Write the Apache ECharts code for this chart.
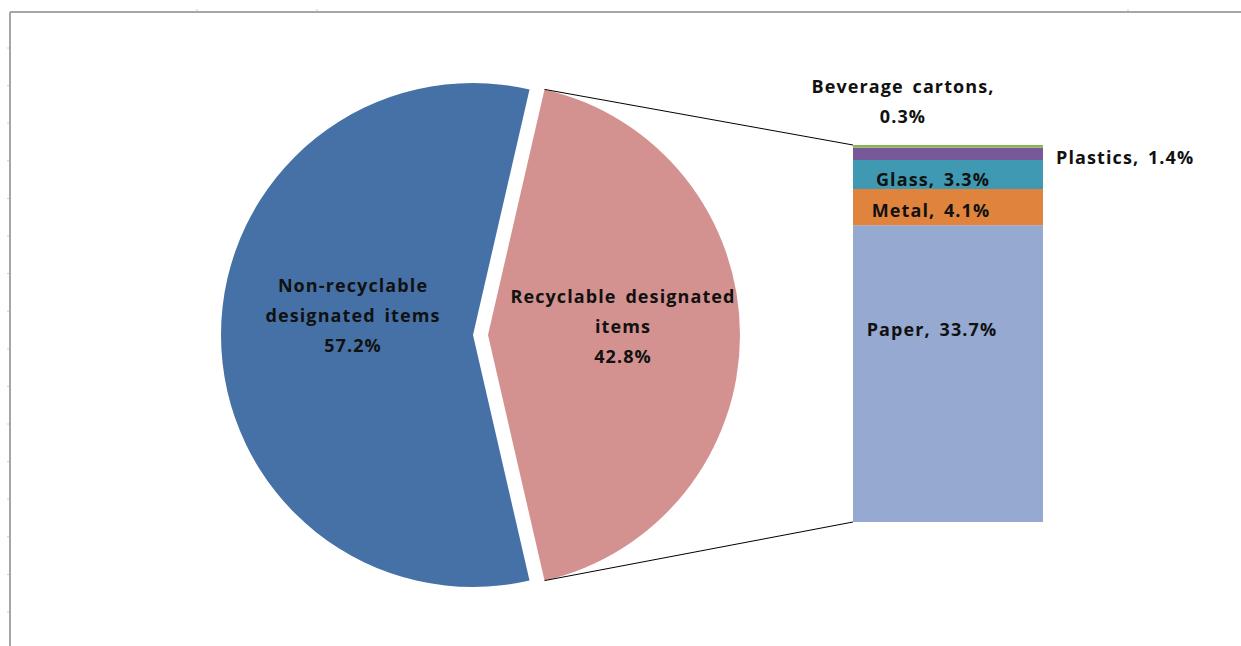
<!DOCTYPE html>
<html>
<head>
<meta charset="utf-8">
<script src="https://cdn.jsdelivr.net/npm/echarts@6/dist/echarts.min.js"></script>
<style>
  html, body { margin: 0; padding: 0; background: #fff; }
  #chart { width: 1241px; height: 646px; }
  #chart text { letter-spacing: 1.1px; word-spacing: 3px; }
</style>
</head>
<body>
<div id="chart"></div>
<script>
// Main split of designated items (percent of total)
const pieNames = ['Recyclable designated items', 'Non-recyclable designated items'];
const pieLabels = ['Recyclable designated\nitems', 'Non-recyclable\ndesignated items'];
const pieValues = [42.8, 57.2];

// Breakdown of the recyclable share (percent of total)
const barNames = ['Paper', 'Metal', 'Glass', 'Plastics', 'Beverage cartons'];
const barValues = [33.7, 4.1, 3.3, 1.4, 0.3];

const pieColors = ['#d3918f', '#4571a7'];
const barColors = ['#95a9d1', '#e0833d', '#3f99b2', '#77599a', '#8db35a'];

const FONT = '"Open Sans", Lato, sans-serif';
const PIE_CENTER = [473, 335];
const PIE_R = 252;
const EXPLODE = 15;
const GRID = { left: 853, top: 145, width: 190, height: 377 };

const barTotal = barValues.reduce((a, b) => a + b, 0);
const pieTotal = pieValues.reduce((a, b) => a + b, 0);
// half-angle of the recyclable slice, centred on the right-hand side
const halfDeg = pieValues[0] / pieTotal * 180;

const labelBase = { fontFamily: FONT, fontWeight: 'bold', fontSize: 18, color: '#111', lineHeight: 30 };

// inside pie labels: horizontal nudge via padding, vertical lift via a spacer line
const pieLabelPad = [[0, 0, 0, 12], [0, 0, 0, 18]];
const pieLift = [18, 40];

const barLabelCfg = [
  { position: 'inside', offset: [-16, -45] },
  { position: 'inside', offset: [-17, 3] },
  { position: 'inside', offset: [-15, 4] },
  { position: 'right', offset: [8, 3] },
  { position: 'top', offset: [-45, -9], align: 'center' }
];

const chart = echarts.init(document.getElementById('chart'), null, { renderer: 'svg' });

const option = {
  animation: false,
  backgroundColor: '#fff',
  grid: GRID,
  xAxis: { type: 'category', data: ['Recyclable'], show: false },
  yAxis: { type: 'value', min: 0, max: barTotal, show: false },
  series: [
    {
      type: 'pie',
      center: PIE_CENTER,
      radius: PIE_R,
      startAngle: halfDeg,
      clockwise: true,
      selectedMode: 'single',
      selectedOffset: EXPLODE,
      avoidLabelOverlap: false,
      emphasis: { disabled: true },
      data: pieNames.map((n, i) => ({
        name: n,
        value: pieValues[i],
        selected: i === 0,
        itemStyle: { color: pieColors[i] },
        label: Object.assign({}, labelBase, {
          show: true,
          position: 'inside',
          padding: pieLabelPad[i],
          formatter: pieLabels[i] + '\n' + pieValues[i].toFixed(1) + '%\n{sp| }',
          rich: { sp: { fontSize: 1, lineHeight: pieLift[i] } }
        })
      }))
    }
  ].concat(barNames.map((n, i) => ({
    type: 'bar',
    name: n,
    stack: 'recyclable',
    barWidth: '100%',
    data: [barValues[i]],
    itemStyle: { color: barColors[i] },
    emphasis: { disabled: true },
    label: Object.assign({}, labelBase, barLabelCfg[i], {
      show: true,
      formatter: n === 'Beverage cartons'
        ? n + ',\n' + barValues[i].toFixed(1) + '%'
        : n + ', ' + barValues[i].toFixed(1) + '%'
    })
  })))
};

chart.setOption(option);

// Connector lines from the exploded slice edges to the stacked bar corners
const rad = halfDeg * Math.PI / 180;
const cx = PIE_CENTER[0] + EXPLODE;
const cy = PIE_CENTER[1];
const pTop = [cx + PIE_R * Math.cos(rad), cy - PIE_R * Math.sin(rad)];
const pBot = [cx + PIE_R * Math.cos(rad), cy + PIE_R * Math.sin(rad)];
const barTopY = chart.convertToPixel({ yAxisIndex: 0 }, barTotal);
const barBotY = chart.convertToPixel({ yAxisIndex: 0 }, 0);
const barLeftX = GRID.left;

// Sheet frame with faint gridline ticks
const frame = [];
frame.push({ type: 'line', shape: { x1: 10, y1: 12, x2: 1241, y2: 12 }, style: { stroke: '#a6a6a6', lineWidth: 2 } });
frame.push({ type: 'line', shape: { x1: 10, y1: 12, x2: 10, y2: 646 }, style: { stroke: '#a6a6a6', lineWidth: 2 } });
[197, 317, 1128].forEach(x => frame.push({ type: 'line', shape: { x1: x, y1: 9, x2: x, y2: 11 }, style: { stroke: '#c8cce0', lineWidth: 1 } }));
for (let y = 48; y < 646; y += 37.6) {
  frame.push({ type: 'line', shape: { x1: 7, y1: y, x2: 9, y2: y }, style: { stroke: '#c8cce0', lineWidth: 1 } });
}

chart.setOption({
  graphic: frame.concat([
    { type: 'line', z: 10, shape: { x1: pTop[0], y1: pTop[1], x2: barLeftX, y2: barTopY }, style: { stroke: '#000', lineWidth: 1 } },
    { type: 'line', z: 10, shape: { x1: pBot[0], y1: pBot[1], x2: barLeftX, y2: barBotY }, style: { stroke: '#000', lineWidth: 1 } }
  ])
});
</script>
</body>
</html>
